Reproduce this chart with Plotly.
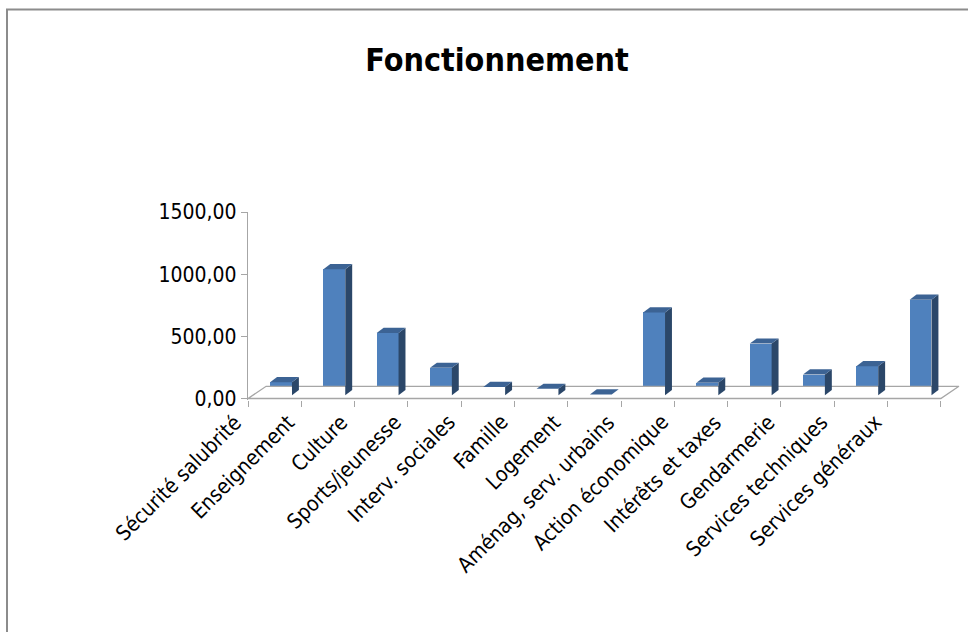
import plotly.graph_objects as go

categories = ["Sécurité salubrité", "Enseignement", "Culture", "Sports/jeunesse",
              "Interv. sociales", "Famille", "Logement", "Aménag, serv. urbains",
              "Action économique", "Intérêts et taxes", "Gendarmerie",
              "Services techniques", "Services généraux"]
values = [104, 1014, 501, 220, 67, 51, 5, 666, 100, 415, 166, 233, 768]
y_tick_vals = [0, 500, 1000, 1500]
y_tick_text = ["0,00", "500,00", "1000,00", "1500,00"]
title_text = "Fonctionnement"

FONT = "DejaVu Sans Condensed"
FRONT = "#4F81BD"
SIDE = "#2B4769"
TOP = "#3C6394"
AXIS = "#A6A6A6"

n = len(categories)
# 3D geometry (in data units)
floor_dx, floor_dy = 0.34, 98.0      # depth of the floor
bar_off_x, bar_base = 0.12, 26.5     # bar front plane offset
bar_w = 0.41
bar_dx, bar_dy = 0.13, 42.0          # bar depth
label_shift = 0.48                   # Excel places rotated labels left of the category

fig = go.Figure()

# floor
fx = [-0.5, n - 0.5, n - 0.5 + floor_dx, -0.5 + floor_dx, -0.5]
fy = [0, 0, floor_dy, floor_dy, 0]
fig.add_trace(go.Scatter(x=fx, y=fy, mode="lines", line=dict(color=AXIS, width=1.3),
                         fill="toself", fillcolor="white", hoverinfo="skip", showlegend=False))

# bars: front faces
xs = [i + bar_off_x for i in range(n)]
fig.add_trace(go.Bar(x=xs, y=values, base=[bar_base] * n, width=bar_w,
                     marker=dict(color=FRONT, line=dict(width=0)), showlegend=False))

# side & top faces
for i, v in enumerate(values):
    xl = xs[i] - bar_w / 2
    xr = xs[i] + bar_w / 2
    b = bar_base
    t = bar_base + v
    fig.add_trace(go.Scatter(
        x=[xr, xr + bar_dx, xr + bar_dx, xr, xr],
        y=[b, b + bar_dy, t + bar_dy, t, b],
        mode="lines", line=dict(width=0, color=SIDE), fill="toself", fillcolor=SIDE,
        hoverinfo="skip", showlegend=False))
    fig.add_trace(go.Scatter(
        x=[xl, xr, xr + bar_dx, xl + bar_dx, xl],
        y=[t, t, t + bar_dy, t + bar_dy, t],
        mode="lines", line=dict(width=0, color=TOP), fill="toself", fillcolor=TOP,
        hoverinfo="skip", showlegend=False))

xr_range = [-0.5, n - 0.5 + floor_dx + 0.02]
span = xr_range[1] - xr_range[0]

# category labels (rotated, anchored at their top-right end); paper coords so
# that the first label (left of the plot area) is still drawn
annotations = [dict(x=(i - label_shift - xr_range[0]) / span, xref="paper",
                    y=-0.04, yref="paper",
                    text=c, textangle=-45, showarrow=False,
                    xanchor="right", yanchor="top",
                    font=dict(family=FONT, size=21, color="black"))
               for i, c in enumerate(categories)]

fig.update_layout(
    width=968, height=632,
    margin=dict(l=248, r=8, t=212, b=232),
    paper_bgcolor="white", plot_bgcolor="rgba(0,0,0,0)",
    title=dict(text="<b>" + title_text + "</b>", font=dict(family=FONT, size=32, color="black"),
               x=497 / 968, xref="container", xanchor="center",
               y=1 - 60 / 632, yref="container", yanchor="middle"),
    xaxis=dict(range=xr_range, showgrid=False, zeroline=False, showline=False,
               tickvals=[i - 0.5 for i in range(n + 1)], ticktext=[""] * (n + 1),
               ticks="outside", ticklen=6, tickcolor=AXIS, tickwidth=1.3),
    yaxis=dict(range=[-12, 1500], showgrid=False, zeroline=False,
               showline=True, linecolor=AXIS, linewidth=1.3,
               tickvals=y_tick_vals, ticktext=y_tick_text,
               ticks="outside", ticklen=6, tickcolor=AXIS, tickwidth=1.3,
               tickfont=dict(family=FONT, size=21, color="black")),
    bargap=0,
    annotations=annotations,
    shapes=[dict(type="rect", xref="paper", yref="paper",
                 x0=(7 - 248) / 712, x1=1.2, y0=-2, y1=(400 - 9.5) / 188,
                 line=dict(color="#8C8C8C", width=2), fillcolor="rgba(0,0,0,0)", layer="below")],
)

fig.write_html("out.html")
